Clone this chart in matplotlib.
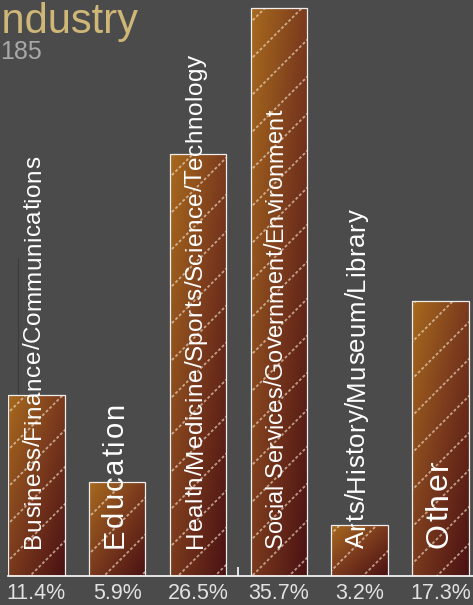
import matplotlib
matplotlib.use('Agg')
import matplotlib.pyplot as plt
import numpy as np
from matplotlib.colors import LinearSegmentedColormap
from matplotlib.font_manager import FontProperties, findfont
from matplotlib.ft2font import FT2Font

## data
categories = ['Business/Finance/Communications', 'Education',
              'Health/Medicine/Sports/Science/Technology',
              'Social Services/Government/Environment',
              'Arts/History/Museum/Library', 'Other']
percent = [11.4, 5.9, 26.5, 35.7, 3.2, 17.3]
title = 'Industry'
subtitle = '185'

## label styling (font size in pt, extra letter spacing in pt)
label_size = [17.5, 21, 17.5, 16.8, 18.5, 23]
label_spacing = [0.3, 1.4, 0.3, 0.15, 0.4, 1.5]

plt.rcParams['font.family'] = 'Liberation Sans'
BG = '#4b4b4b'

fig = plt.figure(figsize=(4.73, 6.05), dpi=100)
fig.patch.set_facecolor(BG)
ax = fig.add_axes([8 / 473, 29 / 605, 465 / 473, 576 / 605])
ax.set_facecolor('none')

x = np.arange(len(categories))
bars = ax.bar(x, percent, width=0.7, color='none', edgecolor='#eeeeee',
              linewidth=0.9, zorder=4)
ax.set_xlim(-0.35, 5.4)
ax.set_ylim(0, 36.2)

## diagonal gradient inside every bar
cmap = LinearSegmentedColormap.from_list('bar', ['#4a1113', '#7a3a1d', '#a86a1e'])
u, v = np.meshgrid(np.linspace(0, 1, 200), np.linspace(0, 1, 200))
grad = 1 - (u + v) / 2
for b in bars:
    x0, w, h = b.get_x(), b.get_width(), b.get_height()
    im = ax.imshow(grad, extent=[x0, x0 + w, 0, h], origin='upper', cmap=cmap,
                   vmin=0, vmax=1, aspect='auto', zorder=2, interpolation='bilinear')
    im.set_clip_path(b)

## dashed white hatch lines
H = 605
S, phase = 37.0, 14.0
inv = ax.transData.inverted()
for b in bars:
    (x0p, y0p), (x1p, y1p) = ax.transData.transform(
        [(b.get_x(), 0), (b.get_x() + b.get_width(), b.get_height())])
    cmin = x0p + H - y1p
    cmax = x1p + H - y0p
    for c in np.arange(np.floor((cmin - phase) / S) * S + phase, cmax + S, S):
        xs = np.array([x0p - 5, x1p + 5])
        ys = xs + H - c
        pts = inv.transform(np.column_stack([xs, ys]))
        ln, = ax.plot(pts[:, 0], pts[:, 1], color='#f5e6d0', alpha=0.62, lw=1.3,
                      linestyle=(0, (1.6, 1.2)), zorder=3)
        ln.set_clip_path(b)

## rotated labels with letter spacing, char by char
font = FT2Font(findfont(FontProperties(family='Liberation Sans')))

def advances(s, size):
    font.set_size(size, 72)
    return [font.load_char(ord(ch)).linearHoriAdvance / 65536 for ch in s]

for i, lab in enumerate(categories):
    size, sp = label_size[i], label_spacing[i]
    dx = 0.716 * size / 2 - 3.6
    pen = 20.2
    for ch, adv in zip(lab, advances(lab, size)):
        if ch != ' ':
            ax.annotate(ch, xy=(x[i], 0), xytext=(dx, pen), textcoords='offset points',
                        rotation=90, rotation_mode='anchor', ha='left', va='baseline',
                        color='white', fontsize=size, zorder=5)
        pen += adv + sp

## percentages under the bars
for xi, p in zip(x, percent):
    ax.annotate(f'{p}%', xy=(xi, 0), xytext=(0, -12.8), textcoords='offset points',
                ha='center', va='center', fontsize=15.5, color='#e2e2e2',
                annotation_clip=False)

## axes styling
for s in ['top', 'right']:
    ax.spines[s].set_visible(False)
ax.spines['bottom'].set_color('white')
ax.spines['bottom'].set_linewidth(1.2)
ax.spines['bottom'].set_zorder(6)
ax.spines['left'].set_position(('data', -0.23))
ax.spines['left'].set_bounds(0, 20)
ax.spines['left'].set_color('#3a3a3a')
ax.spines['left'].set_linewidth(0.8)
ax.spines['left'].set_zorder(1)
ax.set_yticks([])
ax.set_xticks([2.5])
ax.set_xticklabels([''])
ax.tick_params(axis='x', direction='in', length=6.5, width=1.2, color='white')

fig.text(138 / 473, 1 - 33 / 605, title, ha='right', va='baseline',
         fontsize=30, color='#cfb777')
fig.text(0, 1 - 59 / 605, subtitle, ha='left', va='baseline',
         fontsize=18, color='#a8a8a8')

fig.savefig('out.png', dpi=100, facecolor=fig.get_facecolor())
